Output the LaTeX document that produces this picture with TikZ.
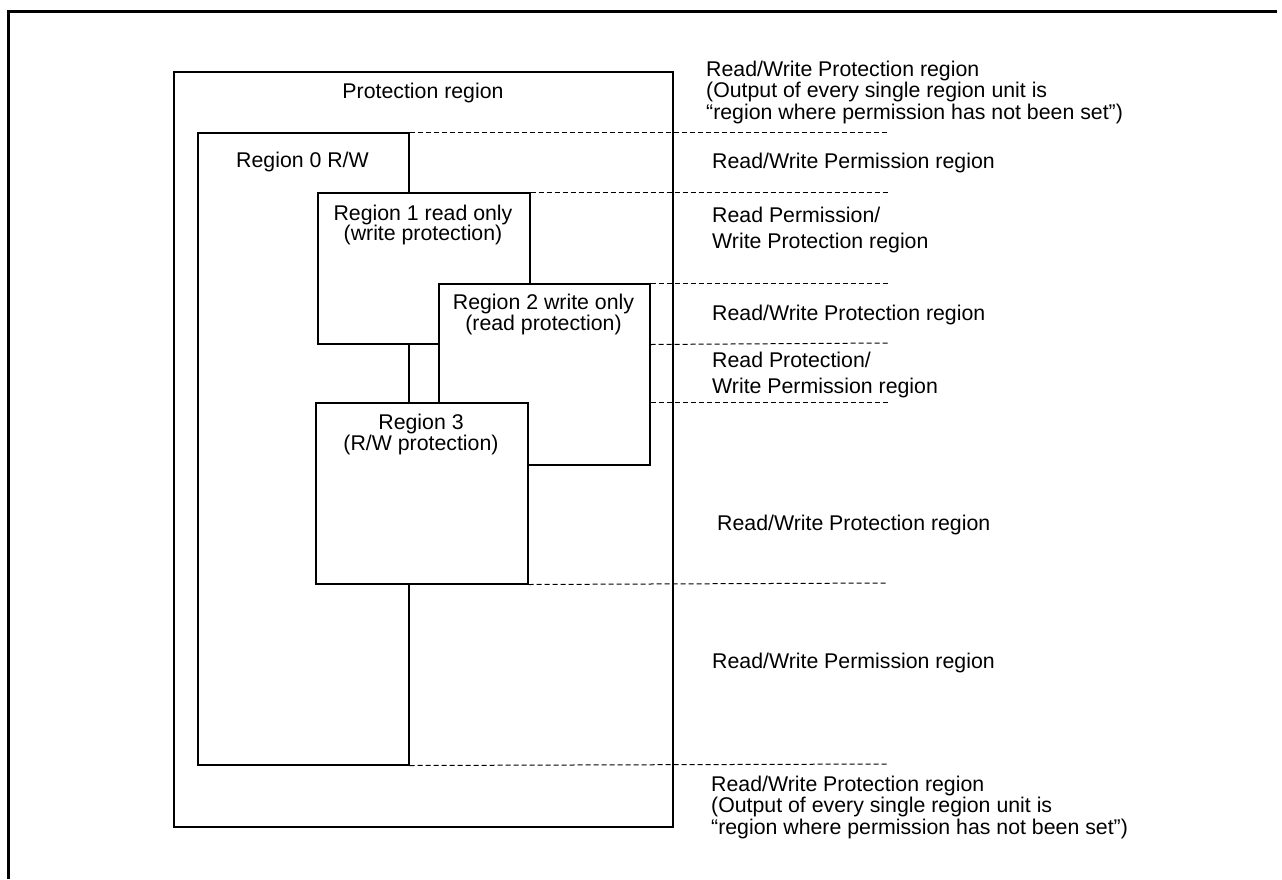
\documentclass[tikz,border=0pt]{standalone}
\usepackage{fontspec}
\setmainfont{Liberation Sans}
\begin{document}
\begin{tikzpicture}[x=1pt,y=-1pt,
  box/.style={draw=black,line width=1.5pt,fill=white,inner sep=0pt,anchor=north west},
  dashline/.style={draw=black,line width=1pt,dash pattern=on 5pt off 3pt},
  frame/.style={draw=black,line width=3.2pt},
  lbl/.style={inner sep=0pt,anchor=base,font=\fontsize{21.3}{21}\selectfont,align=center},
  side/.style={inner sep=0pt,anchor=base west,font=\fontsize{21.3}{26}\selectfont,align=left},
  sidetight/.style={inner sep=0pt,anchor=base west,font=\fontsize{21.3}{21.5}\selectfont,align=left}]
\useasboundingbox (0,0) rectangle (1282,879);
% outer frame
\coordinate (fbl) at (8.5,879);
\coordinate (ftl) at (8.5,11.7);
\coordinate (ftr) at (1277,11.7);
\draw[frame] (fbl) -- (ftl) -- (ftr);
% protection region
\node[box,minimum width=499pt,minimum height=755pt] (prot) at (173,71) {};
\node[lbl] (protl) at (423,98) {Protection region};
% dashed boundaries
\coordinate (d0) at (888,132);
\coordinate (d1) at (888,192);
\coordinate (d2) at (888,283);
\coordinate (d3) at (888,343);
\coordinate (d4) at (888,402);
\coordinate (d5) at (888,583);
\coordinate (d6) at (888,764);
% regions
\node[box,minimum width=211pt,minimum height=632pt] (r0) at (197,132) {};
\node[lbl] (r0l) at (302.5,167) {Region 0 R/W};
\node[box,minimum width=212pt,minimum height=151pt] (r1) at (317,192) {};
\node[lbl,font=\fontsize{21.3}{20}\selectfont] (r1l) at (423,240) {Region 1 read only\\(write protection)};
\node[box,minimum width=211pt,minimum height=181pt] (r2) at (438,283) {};
\node[lbl] (r2l) at (543.5,330) {Region 2 write only\\(read protection)};
\node[box,minimum width=212pt,minimum height=181pt] (r3) at (315,402) {};
\node[lbl] (r3l) at (421,450) {Region 3\\(R/W protection)};
\draw[dashline] (r0.north east) -- (d0);
\draw[dashline] (r1.north east) -- (d1);
\draw[dashline] (r2.north east) -- (d2);
\draw[dashline] (r2.east |- r1.south) -- (d3);
\draw[dashline] (r2.east |- r3.north) -- (d4);
\draw[dashline] (r3.south east) -- (d5);
\draw[dashline] (r0.south east) -- (d6);
% side labels
\node[sidetight] (t0) at (706,119) {Read/Write Protection region\\(Output of every single region unit is\\“region where permission has not been set”)};
\node[side] (t1) at (712,168) {Read/Write Permission region};
\node[side] (t2) at (712,248) {Read Permission/\\Write Protection region};
\node[side] (t3) at (712,320) {Read/Write Protection region};
\node[side] (t4) at (712,393) {Read Protection/\\Write Permission region};
\node[side] (t5) at (717,530) {Read/Write Protection region};
\node[side] (t6) at (712,668) {Read/Write Permission region};
\node[sidetight] (t7) at (711,834) {Read/Write Protection region\\(Output of every single region unit is\\“region where permission has not been set”)};
\end{tikzpicture}
\end{document}
